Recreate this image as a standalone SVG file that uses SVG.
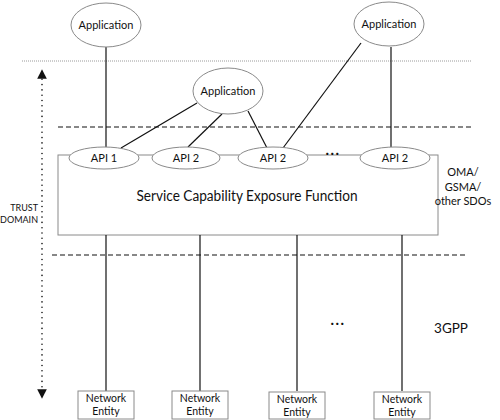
<svg xmlns="http://www.w3.org/2000/svg" width="500" height="420" viewBox="0 0 500 420">
<defs>
<style>
text{font-family:Lato,"Liberation Sans",Arial,sans-serif;fill:#111;}
.node ellipse{fill:#fff;stroke:#8a8a8a;stroke-width:1;}
.box{fill:#fff;stroke:#8a8a8a;stroke-width:1;}
.conn line{stroke:#111;stroke-width:1.2;}
.app{font-size:11px;text-anchor:middle;}
.api{font-size:11px;text-anchor:middle;}
.ne{font-size:10.5px;text-anchor:middle;}
.lbl{font-size:11px;text-anchor:middle;}
.dots{font-size:15px;font-weight:bold;text-anchor:middle;letter-spacing:1.5px;}
</style>
<marker id="ah" viewBox="0 0 10 10" refX="5" refY="5" markerWidth="6" markerHeight="6" orient="auto-start-reverse">
<path d="M0,0 L10,5 L0,10 z" fill="#111"/>
</marker>
</defs>
<rect width="500" height="420" fill="#fff"/>

<!-- boundary lines -->
<line x1="22" y1="61" x2="472" y2="61" stroke="#9a9a9a" stroke-width="1" stroke-dasharray="1 1"/>
<line x1="58" y1="127" x2="472" y2="127" stroke="#111" stroke-width="1.2" stroke-dasharray="5 3"/>
<line x1="52" y1="255" x2="467" y2="255" stroke="#111" stroke-width="1.2" stroke-dasharray="5 3"/>

<!-- trust domain arrow -->
<line x1="42" y1="74" x2="42" y2="394" stroke="#111" stroke-width="1.6" stroke-dasharray="0 5.3" stroke-linecap="round" marker-start="url(#ah)" marker-end="url(#ah)"/>
<text x="38" y="211" font-size="9" text-anchor="end">TRUST</text>
<text x="38" y="223" font-size="9" text-anchor="end">DOMAIN</text>

<!-- SCEF box -->
<g id="scef">
<rect class="box" x="58" y="155" width="380" height="80"/>
<text x="247" y="201" font-size="14.5" text-anchor="middle" textLength="221" lengthAdjust="spacingAndGlyphs">Service Capability Exposure Function</text>
</g>

<g class="conn" id="connectors">
<line x1="106" y1="47" x2="106" y2="147"/>
<line x1="197" y1="103" x2="121" y2="148"/>
<line x1="222" y1="114" x2="188" y2="147"/>
<line x1="248" y1="111" x2="267" y2="148"/>
<line x1="361" y1="43" x2="283" y2="148"/>
<line x1="391" y1="47" x2="391" y2="147"/>
<line x1="106" y1="235" x2="106" y2="391"/>
<line x1="200" y1="235" x2="200" y2="391"/>
<line x1="297" y1="235" x2="297" y2="391"/>
<line x1="402" y1="235" x2="402" y2="391"/>
</g>

<!-- Applications -->
<g id="app1" class="node"><ellipse cx="106" cy="25" rx="35" ry="22"/><text class="app" x="106" y="29">Application</text></g>
<g id="app2" class="node"><ellipse cx="228" cy="91" rx="35" ry="23"/><text class="app" x="228" y="95">Application</text></g>
<g id="app3" class="node"><ellipse cx="389" cy="24" rx="35" ry="22"/><text class="app" x="389" y="28">Application</text></g>

<!-- APIs -->
<g id="api1" class="node"><ellipse cx="104" cy="158" rx="35" ry="11"/><text class="api" x="104" y="162">API 1</text></g>
<g id="api2a" class="node"><ellipse cx="186" cy="158" rx="34" ry="11"/><text class="api" x="186" y="162">API 2</text></g>
<g id="api2b" class="node"><ellipse cx="273" cy="158" rx="35" ry="11"/><text class="api" x="273" y="162">API 2</text></g>
<g id="api2c" class="node"><ellipse cx="395" cy="158" rx="35" ry="11"/><text class="api" x="395" y="162">API 2</text></g>
<text class="dots" x="333" y="155">...</text>

<!-- Labels -->
<text class="lbl" x="463" y="176">OMA/</text>
<text class="lbl" x="463" y="191">GSMA/</text>
<text class="lbl" x="463" y="205">other SDOs</text>
<text class="dots" x="338" y="325">...</text>
<text x="451" y="333" font-size="13.5" text-anchor="middle">3GPP</text>

<!-- Network entities -->
<g id="ne1" class="node"><rect class="box" x="78" y="391" width="56" height="28"/><text class="ne" x="106" y="402">Network</text><text class="ne" x="106" y="415">Entity</text></g>
<g id="ne2" class="node"><rect class="box" x="172" y="391" width="56" height="28"/><text class="ne" x="200" y="402">Network</text><text class="ne" x="200" y="415">Entity</text></g>
<g id="ne3" class="node"><rect class="box" x="269" y="392" width="56" height="27"/><text class="ne" x="297" y="403">Network</text><text class="ne" x="297" y="416">Entity</text></g>
<g id="ne4" class="node"><rect class="box" x="374" y="392" width="56" height="27"/><text class="ne" x="402" y="403">Network</text><text class="ne" x="402" y="416">Entity</text></g>
</svg>
